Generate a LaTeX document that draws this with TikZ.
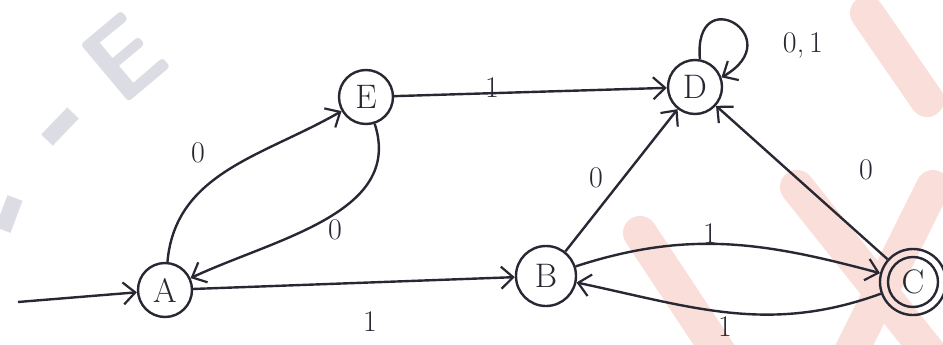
\documentclass[tikz,border=0pt]{standalone}
\usepackage{fontspec}
\usetikzlibrary{arrows.meta}
\definecolor{ink}{RGB}{40,40,52}
\definecolor{wmred}{RGB}{250,222,218}
\definecolor{wmgray}{RGB}{220,220,228}
\begin{document}
\begin{tikzpicture}[x=0.5pt,y=0.5pt,
  state/.style={circle,draw=ink,line width=1.2pt,minimum size=27pt,inner sep=0pt,text=ink,font=\fontsize{17}{18}\selectfont},
  trans/.style={draw=ink,line width=1.2pt,-{Straight Barb[length=6pt,width=11pt,line width=1.1pt]}},
  lab/.style={font=\fontsize{15}{16}\selectfont,text=ink,inner sep=0pt},
  stripe/.style={line width=17pt,line cap=round,draw=wmred},
  wmstroke/.style={line width=8pt,draw=wmgray},
]
\useasboundingbox (0,0) rectangle (943,344);
\fill[white] (0,0) rectangle (943,344);
% watermark
\draw[stripe] (867,331) -- (927,244);
\draw[stripe] (640,111) -- (720,-10);
\draw[stripe] (797,157) -- (930,-10);
\draw[stripe] (933,157) -- (850,-10);
\node[rotate=40,text=wmgray,inner sep=0pt,font=\fontsize{54}{54}\selectfont\bfseries\sffamily] (wmE) at (124,286) {E};
\draw[wmstroke] (73,231) -- (47,204);
\draw[wmstroke] (15,146) -- (3,114);
% states
\node[state] (A) at (165,54) {A};
\node[state] (E) at (366,247) {E};
\node[state,minimum size=30pt] (B) at (546,68) {B};
\node[state] (D) at (695,257) {D};
\node[state,minimum size=33pt] (C) at (913,62) {};
\draw[ink,line width=1.2pt] (C.center) circle[radius=12.5pt];
\node[text=ink,font=\fontsize{17}{18}\selectfont] (Clab) at (C.center) {C};
% transitions
\coordinate (s) at (18,42);
\draw[trans] (s) -- (A);
\draw[trans] (A) to[out=85,in=210] (E);
\draw[trans] (E) to[out=-72,in=25] (A);
\draw[trans] (E) -- (D);
\draw[trans] (A) -- (B);
\draw[trans] (B) -- (D);
\draw[trans] (B) to[out=18,in=165] (C);
\draw[trans] (C) to[out=200,in=-12] (B);
\draw[trans] (C) -- (D);
\draw[trans] (D.80) .. controls +(95:80) and +(30:80) .. (D.20);
% labels
\node[lab] (l1) at (198,191) {0};
\node[lab] (l2) at (335,114) {0};
\node[lab] (l3) at (492,256) {1};
\node[lab] (l4) at (370,22) {1};
\node[lab] (l5) at (596,166) {0};
\node[lab] (l6) at (710,110) {1};
\node[lab] (l7) at (725,17) {1};
\node[lab] (l8) at (866,174) {0};
\node[lab] (l9) at (803,299) {0,\,1};
\end{tikzpicture}
\end{document}
